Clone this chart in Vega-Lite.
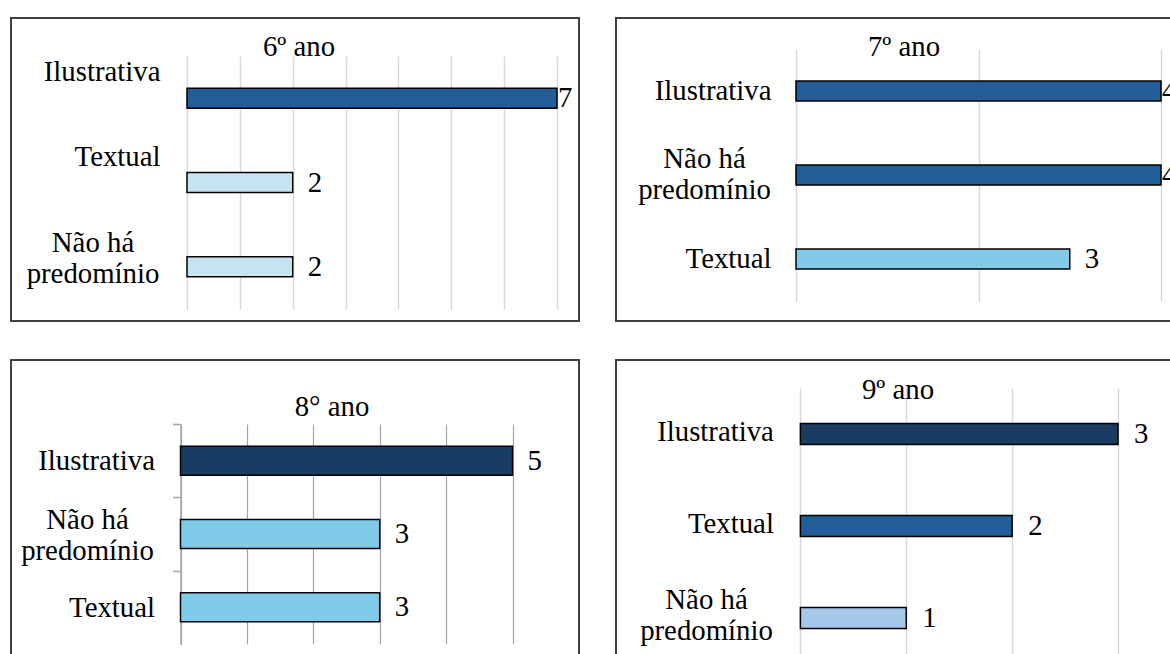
{
  "$schema": "https://vega.github.io/schema/vega-lite/v6.json",
  "background": "white",
  "padding": {"left": 10, "top": 17, "right": 0, "bottom": 0},
  "bounds": "flush",
  "columns": 2,
  "spacing": {"row": 39, "column": 37},
  "data": {"values": [
    {"ano": "6º ano", "categoria": "Ilustrativa", "quantidade": 7},
    {"ano": "6º ano", "categoria": "Textual", "quantidade": 2},
    {"ano": "6º ano", "categoria": "Não há predomínio", "quantidade": 2},
    {"ano": "7º ano", "categoria": "Ilustrativa", "quantidade": 4},
    {"ano": "7º ano", "categoria": "Não há predomínio", "quantidade": 4},
    {"ano": "7º ano", "categoria": "Textual", "quantidade": 3},
    {"ano": "8° ano", "categoria": "Ilustrativa", "quantidade": 5},
    {"ano": "8° ano", "categoria": "Não há predomínio", "quantidade": 3},
    {"ano": "8° ano", "categoria": "Textual", "quantidade": 3},
    {"ano": "9º ano", "categoria": "Ilustrativa", "quantidade": 3},
    {"ano": "9º ano", "categoria": "Textual", "quantidade": 2},
    {"ano": "9º ano", "categoria": "Não há predomínio", "quantidade": 1}
  ]},
  "resolve": {"scale": {"color": "independent", "x": "independent", "y": "independent"}},
  "concat": [
    {
      "title": {"text": "6º ano", "frame": "group", "anchor": "middle", "offset": -67, "dx": 4, "baseline": "alphabetic"},
      "width": 568, "height": 303,
      "transform": [{"filter": "datum.ano == '6º ano'"}],
      "encoding": {
        "y": {"field": "categoria", "type": "nominal", "sort": ["Ilustrativa", "Textual", "Não há predomínio"],
          "scale": {"range": [38, 291], "paddingInner": 0.763, "paddingOuter": 0.3815},
          "axis": {"title": null, "domain": false, "ticks": false, "grid": false, "offset": -176,
            "labelPadding": {"condition": {"test": "datum.value == 'Não há predomínio'", "value": 94.5}, "value": 27},
            "labelAlign": {"condition": {"test": "datum.value == 'Não há predomínio'", "value": "center"}, "value": "right"},
            "labelOffset": {"condition": {"test": "datum.value == 'Não há predomínio'", "value": -24}, "value": -26},
            "labelExpr": "datum.value == 'Não há predomínio' ? ['Não há', 'predomínio'] : datum.label"}},
        "x": {"field": "quantidade", "type": "quantitative",
          "scale": {"domain": [0, 7], "range": [176, 546], "nice": false},
          "axis": {"orient": "top", "title": null, "labels": false, "ticks": false, "domain": false, "grid": true, "values": [0, 1, 2, 3, 4, 5, 6, 7], "gridColor": "#d9d9d9", "gridWidth": 1.5}}
      },
      "layer": [
        {"mark": {"type": "bar", "stroke": "black", "strokeWidth": 1.5},
         "encoding": {"color": {"field": "categoria", "type": "nominal", "legend": null,
           "scale": {"domain": ["Ilustrativa", "Textual", "Não há predomínio"], "range": ["#215E99", "#C5E4F3", "#C5E4F3"]}}}},
        {"mark": {"type": "text", "align": "left", "baseline": "middle", "dx": {"expr": "datum.quantidade == 7 ? 1 : 15"}},
         "encoding": {"text": {"field": "quantidade", "type": "quantitative"}}}
      ]
    },
    {
      "title": {"text": "7º ano", "frame": "group", "anchor": "middle", "offset": -67, "dx": 4, "baseline": "alphabetic"},
      "width": 568, "height": 303,
      "transform": [{"filter": "datum.ano == '7º ano'"}],
      "encoding": {
        "y": {"field": "categoria", "type": "nominal", "sort": ["Ilustrativa", "Não há predomínio", "Textual"],
          "scale": {"range": [31, 283], "paddingInner": 0.762, "paddingOuter": 0.381},
          "axis": {"title": null, "domain": false, "ticks": false, "grid": false, "offset": -180,
            "labelPadding": {"condition": {"test": "datum.value == 'Não há predomínio'", "value": 92}, "value": 25},
            "labelAlign": {"condition": {"test": "datum.value == 'Não há predomínio'", "value": "center"}, "value": "right"},
            "labelOffset": {"condition": {"test": "datum.value == 'Não há predomínio'", "value": -16}, "value": 0},
            "labelExpr": "datum.value == 'Não há predomínio' ? ['Não há', 'predomínio'] : datum.label"}},
        "x": {"field": "quantidade", "type": "quantitative",
          "scale": {"domain": [0, 4], "range": [180, 545], "nice": false},
          "axis": {"orient": "top", "title": null, "labels": false, "ticks": false, "domain": false, "grid": true, "values": [0, 2, 4], "gridColor": "#d9d9d9", "gridWidth": 1.5}}
      },
      "layer": [
        {"mark": {"type": "bar", "stroke": "black", "strokeWidth": 1.5},
         "encoding": {"color": {"field": "categoria", "type": "nominal", "legend": null,
           "scale": {"domain": ["Ilustrativa", "Não há predomínio", "Textual"], "range": ["#215E99", "#215E99", "#80CBEA"]}}}},
        {"mark": {"type": "text", "align": "left", "baseline": "middle", "dx": {"expr": "datum.quantidade == 4 ? 1 : 15"}},
         "encoding": {"text": {"field": "quantidade", "type": "quantitative"}}}
      ]
    },
    {
      "title": {"text": "8° ano", "frame": "group", "anchor": "middle", "offset": -85, "dx": 37, "baseline": "alphabetic"},
      "width": 568, "height": 303,
      "transform": [{"filter": "datum.ano == '8° ano'"}],
      "encoding": {
        "y": {"field": "categoria", "type": "nominal", "sort": ["Ilustrativa", "Não há predomínio", "Textual"],
          "scale": {"range": [64, 284], "paddingInner": 0.604, "paddingOuter": 0.302},
          "axis": {"title": null, "domain": true, "domainColor": "#a6a6a6", "domainWidth": 1.5, "ticks": true, "tickColor": "#a6a6a6", "tickWidth": 1.5, "tickSize": 8, "bandPosition": 0.5, "tickOffset": -36.67, "grid": false, "offset": -169.5,
            "labelPadding": {"condition": {"test": "datum.value == 'Não há predomínio'", "value": 85.5}, "value": 18},
            "labelAlign": {"condition": {"test": "datum.value == 'Não há predomínio'", "value": "center"}, "value": "right"},
            "labelOffset": {"condition": {"test": "datum.value == 'Não há predomínio'", "value": 21.67}, "value": 36.67},
            "labelExpr": "datum.value == 'Não há predomínio' ? ['Não há', 'predomínio'] : datum.label"}},
        "x": {"field": "quantidade", "type": "quantitative",
          "scale": {"domain": [0, 5], "range": [169.5, 501.5], "nice": false},
          "axis": {"orient": "top", "title": null, "labels": false, "ticks": false, "domain": false, "grid": true, "values": [0, 1, 2, 3, 4, 5], "gridColor": "#a6a6a6", "gridWidth": 1.2}}
      },
      "layer": [
        {"mark": {"type": "bar", "stroke": "black", "strokeWidth": 1.5},
         "encoding": {"color": {"field": "categoria", "type": "nominal", "legend": null,
           "scale": {"domain": ["Ilustrativa", "Não há predomínio", "Textual"], "range": ["#1A3C62", "#80CBEA", "#80CBEA"]}}}},
        {"mark": {"type": "text", "align": "left", "baseline": "middle", "dx": 15},
         "encoding": {"text": {"field": "quantidade", "type": "quantitative"}}}
      ]
    },
    {
      "title": {"text": "9º ano", "frame": "group", "anchor": "middle", "offset": -68, "dx": -2, "baseline": "alphabetic"},
      "width": 568, "height": 303,
      "transform": [{"filter": "datum.ano == '9º ano'"}],
      "encoding": {
        "y": {"field": "categoria", "type": "nominal", "sort": ["Ilustrativa", "Textual", "Não há predomínio"],
          "scale": {"range": [28, 304], "paddingInner": 0.772, "paddingOuter": 0.386},
          "axis": {"title": null, "domain": false, "ticks": false, "grid": false, "offset": -184.4,
            "labelOffset": {"condition": {"test": "datum.value == 'Não há predomínio'", "value": -18}, "value": -2},
            "labelPadding": {"condition": {"test": "datum.value == 'Não há predomínio'", "value": 94.4}, "value": 27},
            "labelAlign": {"condition": {"test": "datum.value == 'Não há predomínio'", "value": "center"}, "value": "right"},
            "labelExpr": "datum.value == 'Não há predomínio' ? ['Não há', 'predomínio'] : datum.label"}},
        "x": {"field": "quantidade", "type": "quantitative",
          "scale": {"domain": [0, 3], "range": [184.4, 502], "nice": false},
          "axis": {"orient": "top", "title": null, "labels": false, "ticks": false, "domain": false, "grid": true, "values": [0, 1, 2, 3], "gridColor": "#d9d9d9", "gridWidth": 1.5}}
      },
      "layer": [
        {"mark": {"type": "bar", "stroke": "black", "strokeWidth": 1.5},
         "encoding": {"color": {"field": "categoria", "type": "nominal", "legend": null,
           "scale": {"domain": ["Ilustrativa", "Textual", "Não há predomínio"], "range": ["#1A3C62", "#215E99", "#A6C9EB"]}}}},
        {"mark": {"type": "text", "align": "left", "baseline": "middle", "dx": 16},
         "encoding": {"text": {"field": "quantidade", "type": "quantitative"}}}
      ]
    }
  ],
  "config": {
    "font": "Liberation Serif",
    "view": {"stroke": "#404040", "strokeWidth": 2},
    "title": {"font": "Liberation Serif", "fontSize": 28.8, "fontWeight": "normal", "color": "black"},
    "axis": {"labelFont": "Liberation Serif", "labelFontSize": 28.8, "labelColor": "black", "labelLineHeight": 31, "labelLimit": 0, "labelOverlap": false},
    "text": {"font": "Liberation Serif", "fontSize": 28.8, "color": "black"}
  }
}
